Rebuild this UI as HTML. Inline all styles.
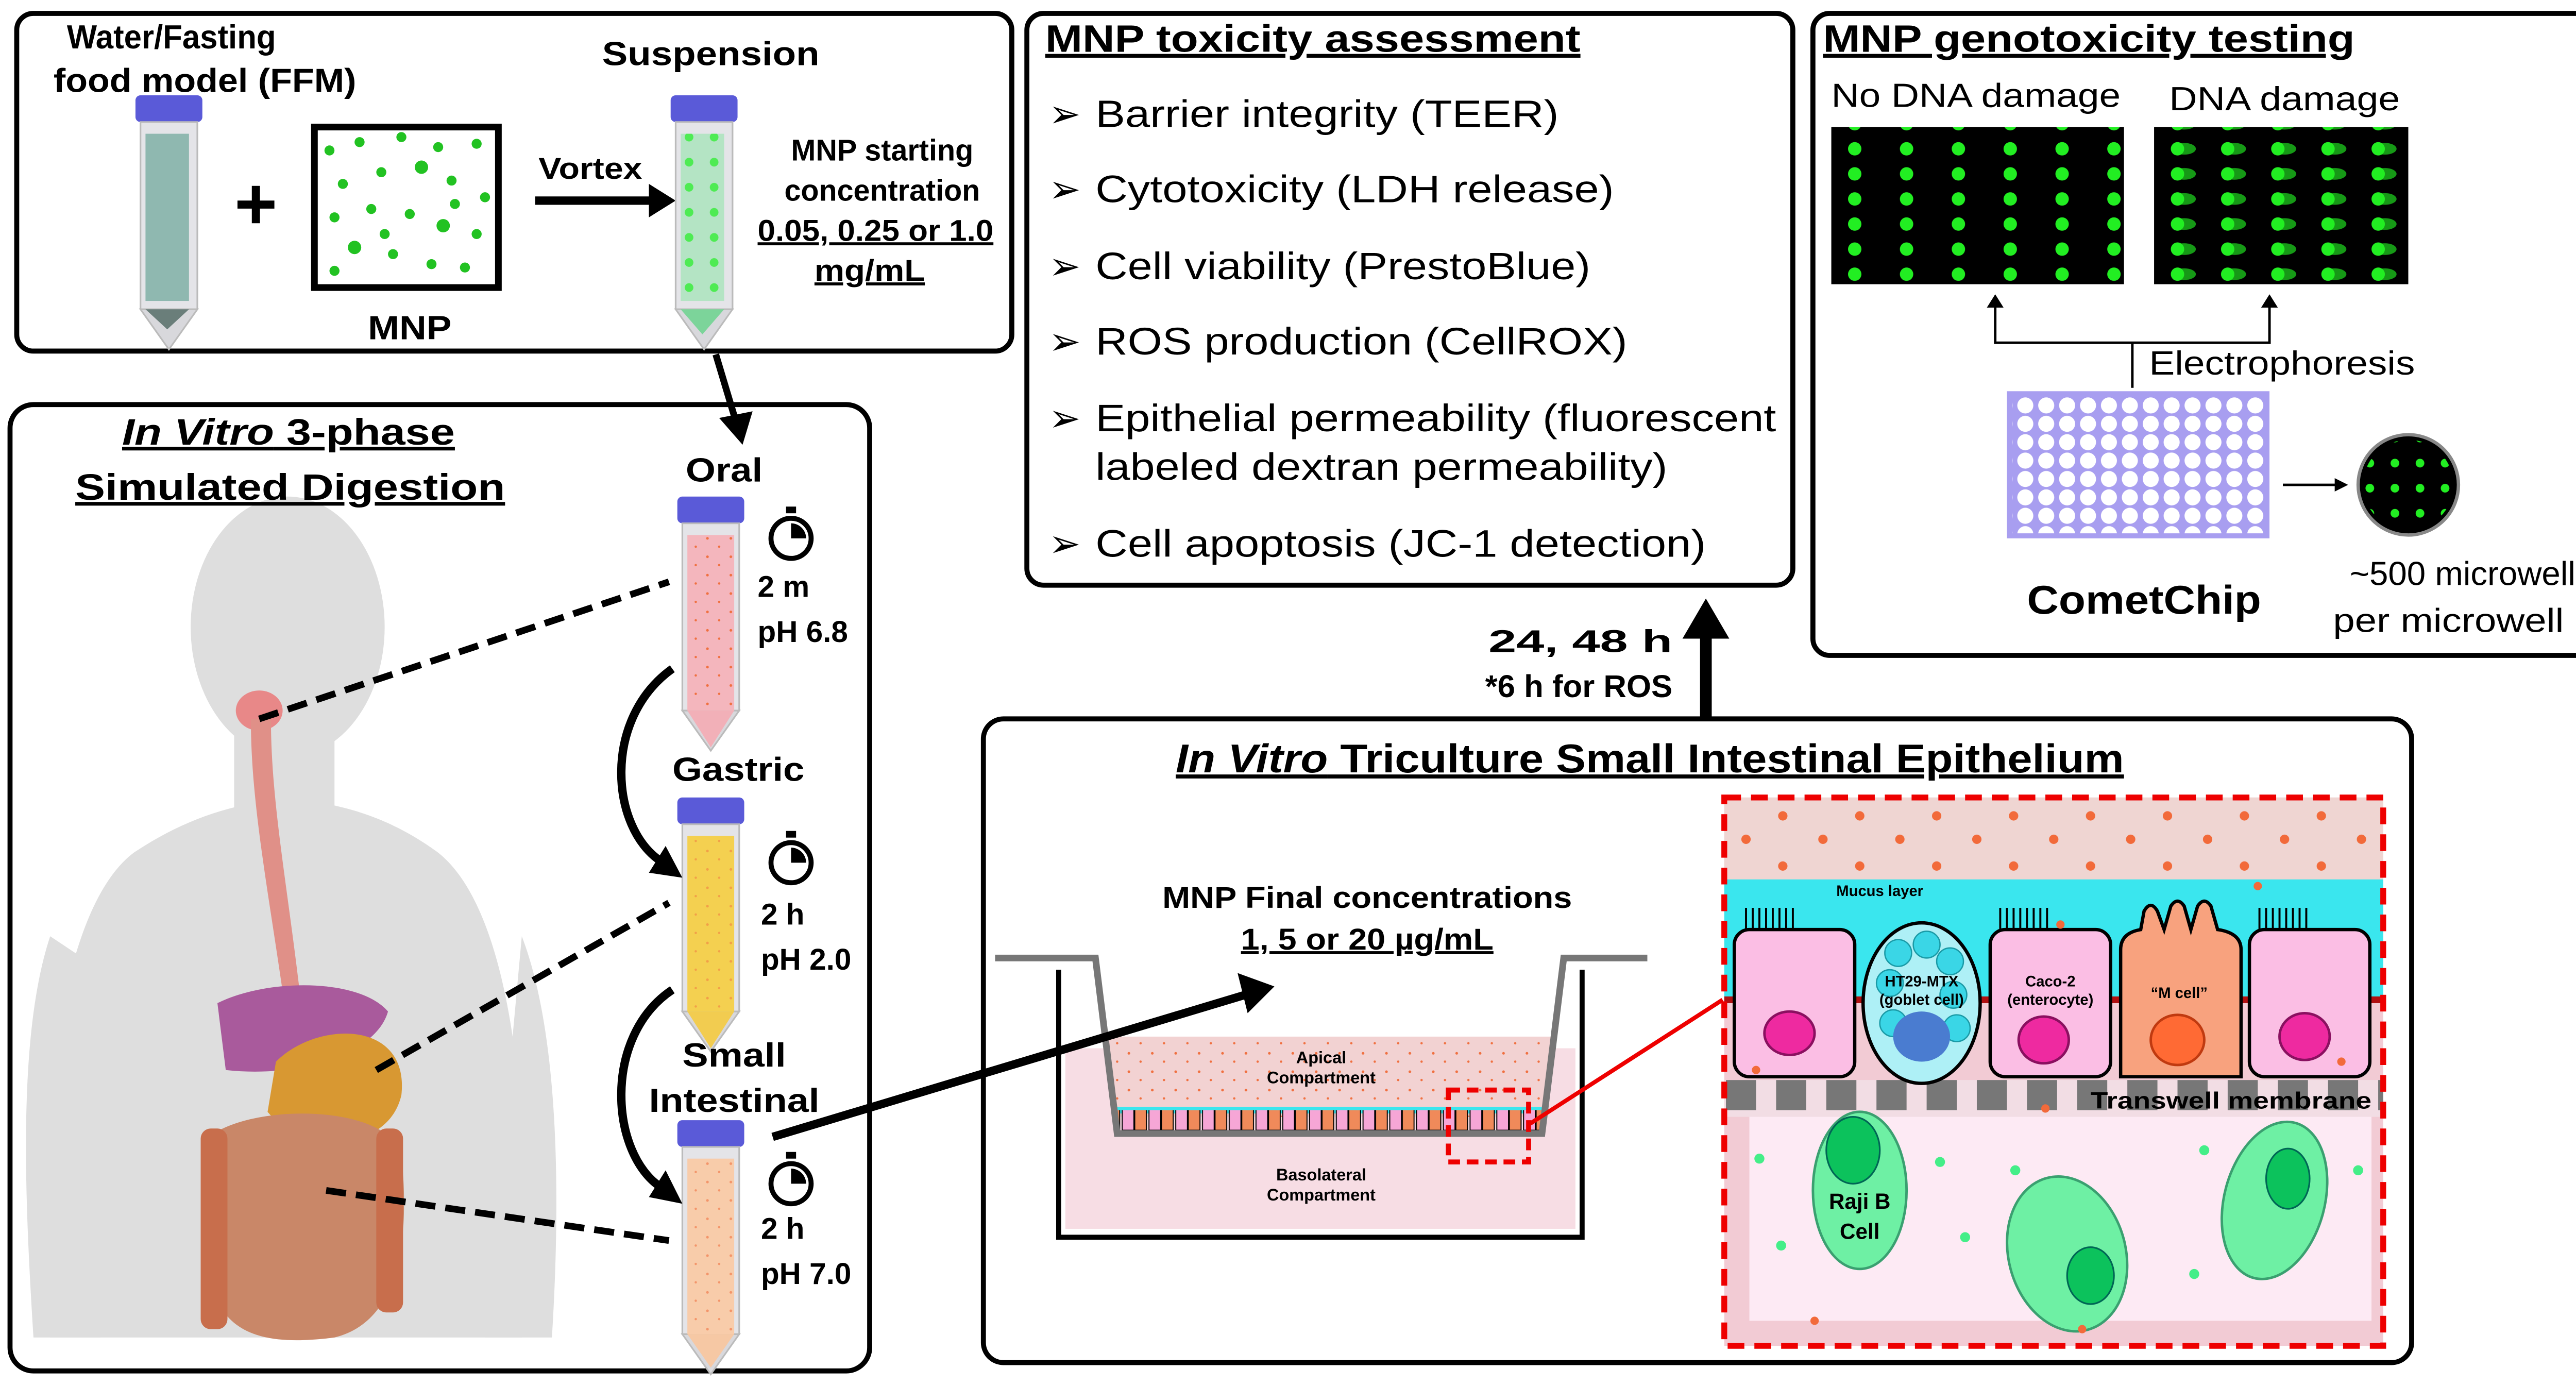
<!DOCTYPE html>
<html><head><meta charset="utf-8"><style>
html,body{margin:0;padding:0;background:#fff;}
svg{display:block;}
text{font-family:"Liberation Sans",sans-serif;font-weight:bold;fill:#000;}
.n{font-weight:normal;}
</style></head><body>
<svg width="5090" height="2690" viewBox="0 0 1568 829" preserveAspectRatio="none" xmlns="http://www.w3.org/2000/svg">
<defs>
<pattern id="gdots" x="1103" y="84" width="31" height="15" patternUnits="userSpaceOnUse"><circle cx="6" cy="5" r="4" fill="#22ee22"/></pattern>
<pattern id="cdots" x="1296" y="84" width="30" height="15" patternUnits="userSpaceOnUse"><ellipse cx="10" cy="5" rx="7" ry="3.5" fill="#169916"/><circle cx="6" cy="5" r="4" fill="#22ee22"/></pattern>
<pattern id="wells" x="1205" y="237" width="12.5" height="11" patternUnits="userSpaceOnUse"><circle cx="6" cy="5.5" r="4.8" fill="#fff"/></pattern>
<pattern id="odots" width="14" height="11" patternUnits="userSpaceOnUse"><circle cx="3" cy="3" r="0.8" fill="#f07040"/><circle cx="10" cy="8" r="0.7" fill="#f07040"/></pattern>
<pattern id="bigodots" width="46" height="30" patternUnits="userSpaceOnUse"><circle cx="8" cy="8" r="2.8" fill="#f26a3a"/><circle cx="32" cy="22" r="2.8" fill="#f26a3a"/></pattern>
<pattern id="memb" x="1032" width="30" height="20" patternUnits="userSpaceOnUse"><rect width="18" height="20" fill="#777"/></pattern>
<pattern id="cells" x="670" width="16" height="20" patternUnits="userSpaceOnUse"><rect x="1" y="0" width="7" height="16" fill="#f6a6d6" stroke="#000" stroke-width="0.6"/><rect x="8.5" y="0" width="7" height="16" fill="#f08a5a" stroke="#000" stroke-width="0.6"/></pattern>
<pattern id="grnsm" width="15" height="15" patternUnits="userSpaceOnUse"><circle cx="7" cy="7" r="2.6" fill="#22ee22"/></pattern>
<g id="tube">
<rect x="0" y="0" width="40" height="16" rx="3" fill="#5a5ad8"/>
<rect x="3" y="16" width="34" height="112" fill="#e4e4e8" stroke="#bbb" stroke-width="1"/>
<polygon points="3,128 37,128 20,152" fill="#d8d8dc" stroke="#bbb" stroke-width="1"/>
</g>
<g id="timer"><circle cx="0" cy="0" r="12" fill="#fff" stroke="#000" stroke-width="3"/><path d="M0,0 L0,-9 A9,9 0 0 1 9,0 Z" fill="#000"/><rect x="-3" y="-19" width="6" height="4" fill="#000"/></g>
</defs>

<!-- Box 1 -->
<rect x="10" y="8" width="595" height="202" rx="10" fill="#fff" stroke="#000" stroke-width="3"/>
<text x="40" y="29" font-size="20" textLength="125" lengthAdjust="spacingAndGlyphs">Water/Fasting</text>
<text x="32" y="55" font-size="20" textLength="181" lengthAdjust="spacingAndGlyphs">food model (FFM)</text>
<use href="#tube" x="81" y="57"/>
<rect x="87" y="80" width="26" height="100" fill="#8fb8b0"/>
<polygon points="87,185 113,185 100,197" fill="#6a7e7a"/>
<text x="153" y="137" font-size="44" text-anchor="middle">+</text>
<rect x="188" y="76" width="110" height="96" fill="#fff" stroke="#000" stroke-width="4"/>
<g fill="#22c222">
<circle cx="197" cy="90" r="3"/><circle cx="215" cy="85" r="3"/><circle cx="240" cy="82" r="3"/><circle cx="262" cy="88" r="3"/><circle cx="285" cy="86" r="3"/>
<circle cx="205" cy="110" r="3"/><circle cx="228" cy="103" r="3"/><circle cx="252" cy="100" r="4"/><circle cx="270" cy="108" r="3"/><circle cx="290" cy="118" r="3"/>
<circle cx="200" cy="130" r="3"/><circle cx="222" cy="125" r="3"/><circle cx="245" cy="128" r="3"/><circle cx="265" cy="135" r="4"/><circle cx="285" cy="140" r="3"/>
<circle cx="212" cy="148" r="4"/><circle cx="235" cy="152" r="3"/><circle cx="258" cy="158" r="3"/><circle cx="278" cy="160" r="3"/><circle cx="200" cy="162" r="3"/><circle cx="230" cy="140" r="3"/><circle cx="272" cy="122" r="3"/>
</g>
<text x="220" y="203" font-size="20" textLength="50" lengthAdjust="spacingAndGlyphs">MNP</text>
<text x="322" y="107" font-size="18" textLength="62" lengthAdjust="spacingAndGlyphs">Vortex</text>
<line x1="320" y1="120" x2="392" y2="120" stroke="#000" stroke-width="5"/>
<polygon points="388,110 404,120 388,130" fill="#000"/>
<text x="360" y="39" font-size="20" textLength="130" lengthAdjust="spacingAndGlyphs">Suspension</text>
<use href="#tube" x="401" y="57"/>
<rect x="407" y="80" width="26" height="100" fill="#b4e4c4"/>
<rect x="407" y="80" width="26" height="100" fill="url(#grnsm)" opacity="0.7"/>
<polygon points="407,185 433,185 420,200" fill="#7cd49a"/>
<text x="473" y="96" font-size="18" textLength="109" lengthAdjust="spacingAndGlyphs">MNP starting</text>
<text x="469" y="120" font-size="18" textLength="117" lengthAdjust="spacingAndGlyphs">concentration</text>
<text x="453" y="144" font-size="18" textLength="141" lengthAdjust="spacingAndGlyphs" text-decoration="underline">0.05, 0.25 or 1.0</text>
<text x="487" y="168" font-size="18" textLength="66" lengthAdjust="spacingAndGlyphs" text-decoration="underline">mg/mL</text>

<!-- Box 2 -->
<rect x="6" y="242" width="514" height="578" rx="14" fill="#fff" stroke="#000" stroke-width="3"/>
<g fill="#dedede">
<ellipse cx="172" cy="375" rx="58" ry="78"/>
<rect x="140" y="430" width="60" height="60"/>
<path d="M30,800 C20,650 40,540 80,510 C110,490 140,480 172,478 C205,480 235,490 262,510 C300,540 320,640 312,800 Z"/>
<path d="M30,560 C10,620 15,720 20,800 L60,800 L60,580 Z"/>
<path d="M312,560 C335,620 335,720 330,800 L290,800 Z"/>
</g>
<ellipse cx="155" cy="425" rx="14" ry="12" fill="#e88888"/>
<path d="M150,430 C150,480 160,530 170,600 L180,600 C172,530 162,480 162,430 Z" fill="#e09088"/>
<path d="M130,600 C160,585 215,585 232,605 C225,630 180,645 135,640 Z" fill="#a95a9c"/>
<path d="M165,635 C190,610 245,610 240,655 C232,690 180,690 160,665 Z" fill="#d89832"/>
<path d="M125,680 C150,660 230,660 240,690 C245,740 240,790 200,800 C160,805 130,800 125,760 Z" fill="#c98768"/>
<rect x="120" y="675" width="16" height="120" rx="6" fill="#c86e4c"/>
<rect x="225" y="675" width="16" height="110" rx="6" fill="#c86e4c"/>
<text x="73" y="266" font-size="22" textLength="199" lengthAdjust="spacingAndGlyphs" text-decoration="underline"><tspan font-style="italic">In Vitro</tspan> 3-phase</text>
<text x="45" y="299" font-size="22" textLength="257" lengthAdjust="spacingAndGlyphs" text-decoration="underline">Simulated Digestion</text>
<line x1="428" y1="212" x2="440" y2="252" stroke="#000" stroke-width="4"/>
<polygon points="430,250 444,266 450,246" fill="#000"/>
<text x="410" y="288" font-size="20" textLength="46" lengthAdjust="spacingAndGlyphs">Oral</text>
<use href="#tube" x="405" y="297"/>
<rect x="411" y="320" width="28" height="105" fill="#f4b6bd"/>
<rect x="411" y="320" width="28" height="105" fill="url(#odots)"/>
<polygon points="411,425 439,425 425,447" fill="#f2b0b8"/>
<use href="#timer" x="473" y="322"/>
<text x="453" y="357" font-size="18">2 m</text>
<text x="453" y="384" font-size="18">pH 6.8</text>
<text x="402" y="467" font-size="20" textLength="79" lengthAdjust="spacingAndGlyphs">Gastric</text>
<use href="#tube" x="405" y="477"/>
<rect x="411" y="500" width="28" height="105" fill="#f4d050"/>
<rect x="411" y="500" width="28" height="105" fill="url(#odots)" opacity="0.5"/>
<polygon points="411,605 439,605 425,627" fill="#f2cc50"/>
<use href="#timer" x="473" y="516"/>
<text x="455" y="553" font-size="18">2 h</text>
<text x="455" y="580" font-size="18">pH 2.0</text>
<text x="408" y="638" font-size="20" textLength="62" lengthAdjust="spacingAndGlyphs">Small</text>
<text x="388" y="665" font-size="20" textLength="102" lengthAdjust="spacingAndGlyphs">Intestinal</text>
<use href="#tube" x="405" y="670"/>
<rect x="411" y="693" width="28" height="105" fill="#f8ccaa"/>
<rect x="411" y="693" width="28" height="105" fill="url(#odots)" opacity="0.6"/>
<polygon points="411,798 439,798 425,818" fill="#f6c8a4"/>
<use href="#timer" x="473" y="708"/>
<text x="455" y="741" font-size="18">2 h</text>
<text x="455" y="768" font-size="18">pH 7.0</text>
<path d="M402,400 C360,430 365,495 395,515" fill="none" stroke="#000" stroke-width="5"/>
<polygon points="388,522 408,525 398,506" fill="#000"/>
<path d="M402,592 C360,620 365,690 395,710" fill="none" stroke="#000" stroke-width="5"/>
<polygon points="388,716 408,720 398,700" fill="#000"/>
<g stroke="#000" stroke-width="4" stroke-dasharray="12,6">
<line x1="155" y1="430" x2="400" y2="348"/>
<line x1="225" y1="640" x2="400" y2="540"/>
<line x1="195" y1="712" x2="400" y2="742"/>
</g>

<!-- Box 3 -->
<rect x="614" y="8" width="458" height="342" rx="10" fill="#fff" stroke="#000" stroke-width="3"/>
<text x="625" y="31" font-size="23" textLength="320" lengthAdjust="spacingAndGlyphs" text-decoration="underline">MNP toxicity assessment</text>
<g font-size="23">
<text x="627" y="76" class="n">➢</text><text x="655" y="76" class="n" textLength="277" lengthAdjust="spacingAndGlyphs">Barrier integrity (TEER)</text>
<text x="627" y="121" class="n">➢</text><text x="655" y="121" class="n" textLength="310" lengthAdjust="spacingAndGlyphs">Cytotoxicity (LDH release)</text>
<text x="627" y="167" class="n">➢</text><text x="655" y="167" class="n" textLength="296" lengthAdjust="spacingAndGlyphs">Cell viability (PrestoBlue)</text>
<text x="627" y="212" class="n">➢</text><text x="655" y="212" class="n" textLength="318" lengthAdjust="spacingAndGlyphs">ROS production (CellROX)</text>
<text x="627" y="258" class="n">➢</text><text x="655" y="258" class="n" textLength="407" lengthAdjust="spacingAndGlyphs">Epithelial permeability (fluorescent</text>
<text x="655" y="287" class="n" textLength="342" lengthAdjust="spacingAndGlyphs">labeled dextran permeability)</text>
<text x="627" y="333" class="n">➢</text><text x="655" y="333" class="n" textLength="365" lengthAdjust="spacingAndGlyphs">Cell apoptosis (JC-1 detection)</text>
</g>
<line x1="1020" y1="430" x2="1020" y2="378" stroke="#000" stroke-width="7"/>
<polygon points="1006,382 1020,358 1034,382" fill="#000"/>
<text x="890" y="390" font-size="19" textLength="110" lengthAdjust="spacingAndGlyphs">24, 48 h</text>
<text x="888" y="417" font-size="19" textLength="112" lengthAdjust="spacingAndGlyphs">*6 h for ROS</text>

<!-- Box 4 -->
<rect x="1084" y="8" width="476" height="384" rx="10" fill="#fff" stroke="#000" stroke-width="3"/>
<text x="1090" y="31" font-size="23" textLength="318" lengthAdjust="spacingAndGlyphs" text-decoration="underline">MNP genotoxicity testing</text>
<text x="1095" y="64" font-size="20" class="n" textLength="173" lengthAdjust="spacingAndGlyphs">No DNA damage</text>
<text x="1297" y="66" font-size="20" class="n" textLength="138" lengthAdjust="spacingAndGlyphs">DNA damage</text>
<rect x="1095" y="76" width="175" height="94" fill="#000"/>
<rect x="1095" y="76" width="175" height="94" fill="url(#gdots)"/>
<rect x="1288" y="76" width="152" height="94" fill="#000"/>
<rect x="1288" y="76" width="152" height="94" fill="url(#cdots)"/>
<polyline points="1193,180 1193,205 1357,205 1357,180" fill="none" stroke="#000" stroke-width="1.5"/>
<polygon points="1188,184 1193,176 1198,184" fill="#000"/>
<polygon points="1352,184 1357,176 1362,184" fill="#000"/>
<line x1="1275" y1="205" x2="1275" y2="232" stroke="#000" stroke-width="1.5"/>
<text x="1285" y="224" font-size="20" class="n" textLength="159" lengthAdjust="spacingAndGlyphs">Electrophoresis</text>
<rect x="1200" y="234" width="157" height="88" fill="#a89ef0"/>
<rect x="1203" y="237" width="151" height="82" fill="url(#wells)"/>
<text x="1212" y="367" font-size="24" textLength="140" lengthAdjust="spacingAndGlyphs">CometChip</text>
<line x1="1365" y1="290" x2="1398" y2="290" stroke="#000" stroke-width="1.5"/>
<polygon points="1396,286 1404,290 1396,294" fill="#000"/>
<circle cx="1440" cy="290" r="30" fill="#000" stroke="#888" stroke-width="2"/>
<circle cx="1440" cy="290" r="27" fill="url(#grnsm)"/>
<text x="1405" y="350" font-size="20" class="n" textLength="145" lengthAdjust="spacingAndGlyphs">~500 microwells</text>
<text x="1395" y="378" font-size="20" class="n" textLength="138" lengthAdjust="spacingAndGlyphs">per microwell</text>

<!-- Box 5 -->
<rect x="588" y="430" width="854" height="385" rx="12" fill="#fff" stroke="#000" stroke-width="3"/>
<text x="703" y="462" font-size="24" textLength="567" lengthAdjust="spacingAndGlyphs" text-decoration="underline"><tspan font-style="italic">In Vitro</tspan> Triculture Small Intestinal Epithelium</text>
<text x="695" y="543" font-size="18" textLength="245" lengthAdjust="spacingAndGlyphs">MNP Final concentrations</text>
<text x="742" y="568" font-size="18" textLength="151" lengthAdjust="spacingAndGlyphs" text-decoration="underline">1, 5 or 20 µg/mL</text>
<rect x="637" y="627" width="305" height="108" fill="#f7dde4"/>
<polygon points="660,620 928,620 922,668 667,668" fill="#f2d2d2"/>
<polygon points="660,620 928,620 922,668 667,668" fill="url(#odots)"/>
<rect x="667" y="662" width="255" height="4" fill="#3be6ee"/>
<rect x="668" y="664" width="254" height="14" fill="url(#cells)"/>
<path d="M633,580 L633,740 L946,740 L946,580" fill="none" stroke="#000" stroke-width="3"/>
<path d="M595,573 L655,573 L668,678 L922,678 L935,573 L985,573" fill="none" stroke="#777" stroke-width="4"/>
<text x="790" y="636" font-size="10" text-anchor="middle">Apical</text>
<text x="790" y="648" font-size="10" text-anchor="middle">Compartment</text>
<text x="790" y="706" font-size="10" text-anchor="middle">Basolateral</text>
<text x="790" y="718" font-size="10" text-anchor="middle">Compartment</text>
<rect x="866" y="652" width="48" height="43" fill="none" stroke="#e00" stroke-width="3" stroke-dasharray="7,4"/>
<line x1="915" y1="672" x2="1030" y2="598" stroke="#e00" stroke-width="2.5"/>
<!-- arrow from small intestinal to well -->
<line x1="462" y1="680" x2="748" y2="594" stroke="#000" stroke-width="5"/>
<polygon points="740,582 762,590 746,606" fill="#000"/>
<!-- zoom box -->
<rect x="1031" y="477" width="394" height="328" fill="#f2cbd4"/>
<rect x="1031" y="477" width="394" height="50" fill="#efd5d2"/>
<rect x="1031" y="477" width="394" height="50" fill="url(#bigodots)"/>
<rect x="1031" y="526" width="394" height="74" fill="#3ae6ee"/>
<rect x="1031" y="596" width="394" height="4" fill="#b01010"/>
<rect x="1031" y="646" width="394" height="22" fill="#f2dde4"/>
<rect x="1031" y="646" width="394" height="18" fill="url(#memb)"/>
<rect x="1046" y="668" width="372" height="122" fill="#fdeaf4"/>
<text x="1098" y="536" font-size="9">Mucus layer</text>
<g stroke="#000" stroke-width="1.2">
<path d="M1044,557 v-14 M1048,557 v-14 M1052,557 v-14 M1056,557 v-14 M1060,557 v-14 M1064,557 v-14 M1068,557 v-14 M1072,557 v-14"/>
<path d="M1196,557 v-14 M1200,557 v-14 M1204,557 v-14 M1208,557 v-14 M1212,557 v-14 M1216,557 v-14 M1220,557 v-14 M1224,557 v-14"/>
<path d="M1351,557 v-14 M1355,557 v-14 M1359,557 v-14 M1363,557 v-14 M1367,557 v-14 M1371,557 v-14 M1375,557 v-14 M1379,557 v-14"/>
</g>
<rect x="1037" y="556" width="72" height="88" rx="9" fill="#fbbee4" stroke="#000" stroke-width="2"/>
<ellipse cx="1070" cy="618" rx="15" ry="13" fill="#ee2aa0" stroke="#8a1060" stroke-width="1.5"/>
<ellipse cx="1149" cy="600" rx="35" ry="48" fill="#aef0f6" stroke="#000" stroke-width="2"/>
<g fill="#3ad6e6" stroke="#1a9aa6" stroke-width="0.8"><circle cx="1135" cy="570" r="8"/><circle cx="1152" cy="565" r="8"/><circle cx="1166" cy="575" r="8"/><circle cx="1130" cy="588" r="8"/><circle cx="1168" cy="595" r="8"/><circle cx="1132" cy="612" r="8"/><circle cx="1170" cy="615" r="8"/></g>
<ellipse cx="1149" cy="620" rx="17" ry="15" fill="#4a7cd0"/>
<text x="1149" y="590" font-size="9" text-anchor="middle">HT29-MTX</text>
<text x="1149" y="601" font-size="9" text-anchor="middle">(goblet cell)</text>
<rect x="1190" y="556" width="72" height="88" rx="9" fill="#fbbee4" stroke="#000" stroke-width="2"/>
<ellipse cx="1222" cy="622" rx="15" ry="14" fill="#ee2aa0" stroke="#8a1060" stroke-width="1.5"/>
<text x="1226" y="590" font-size="9" text-anchor="middle">Caco-2</text>
<text x="1226" y="601" font-size="9" text-anchor="middle">(enterocyte)</text>
<path d="M1268,644 L1268,568 Q1268,558 1280,556 L1282,545 Q1286,538 1290,545 L1294,556 L1298,542 Q1302,536 1306,542 L1310,556 L1314,542 Q1318,536 1322,542 L1326,556 Q1340,558 1340,568 L1340,644 Z" fill="#f8a27e" stroke="#000" stroke-width="2"/>
<ellipse cx="1302" cy="622" rx="16" ry="15" fill="#ff6a34" stroke="#c03a10" stroke-width="1.5"/>
<text x="1303" y="597" font-size="9" text-anchor="middle">“M cell”</text>
<rect x="1345" y="556" width="72" height="88" rx="9" fill="#fbbee4" stroke="#000" stroke-width="2"/>
<ellipse cx="1378" cy="620" rx="15" ry="14" fill="#ee2aa0" stroke="#8a1060" stroke-width="1.5"/>
<text x="1250" y="663" font-size="14" textLength="168" lengthAdjust="spacingAndGlyphs">Transwell membrane</text>
<ellipse cx="1112" cy="712" rx="28" ry="47" fill="#6ef0a4" stroke="#3aa070" stroke-width="1.5"/>
<ellipse cx="1108" cy="688" rx="16" ry="20" fill="#0cc25c" stroke="#065" stroke-width="1"/>
<text x="1112" y="723" font-size="13" text-anchor="middle">Raji B</text>
<text x="1112" y="741" font-size="13" text-anchor="middle">Cell</text>
<ellipse cx="1236" cy="750" rx="35" ry="47" transform="rotate(-15 1236 750)" fill="#6ef0a4" stroke="#3aa070" stroke-width="1.5"/>
<ellipse cx="1250" cy="763" rx="14" ry="17" fill="#0cc25c" stroke="#065" stroke-width="1"/>
<ellipse cx="1360" cy="718" rx="30" ry="48" transform="rotate(15 1360 718)" fill="#6ef0a4" stroke="#3aa070" stroke-width="1.5"/>
<ellipse cx="1368" cy="705" rx="13" ry="18" fill="#0cc25c" stroke="#065" stroke-width="1"/>
<g fill="#44ee88"><circle cx="1052" cy="693" r="3"/><circle cx="1160" cy="695" r="3"/><circle cx="1175" cy="740" r="3"/><circle cx="1205" cy="700" r="3"/><circle cx="1318" cy="688" r="3"/><circle cx="1410" cy="700" r="3"/><circle cx="1065" cy="745" r="3"/><circle cx="1312" cy="762" r="3"/></g>
<g fill="#f26a3a"><circle cx="1050" cy="640" r="2.5"/><circle cx="1223" cy="663" r="2.5"/><circle cx="1400" cy="635" r="2.5"/><circle cx="1085" cy="790" r="2.5"/><circle cx="1245" cy="795" r="2.5"/><circle cx="1232" cy="553" r="2.5"/><circle cx="1350" cy="530" r="2.5"/></g>
<rect x="1031" y="477" width="394" height="328" fill="none" stroke="#e00" stroke-width="3.5" stroke-dasharray="10,6"/>
</svg>
</body></html>
